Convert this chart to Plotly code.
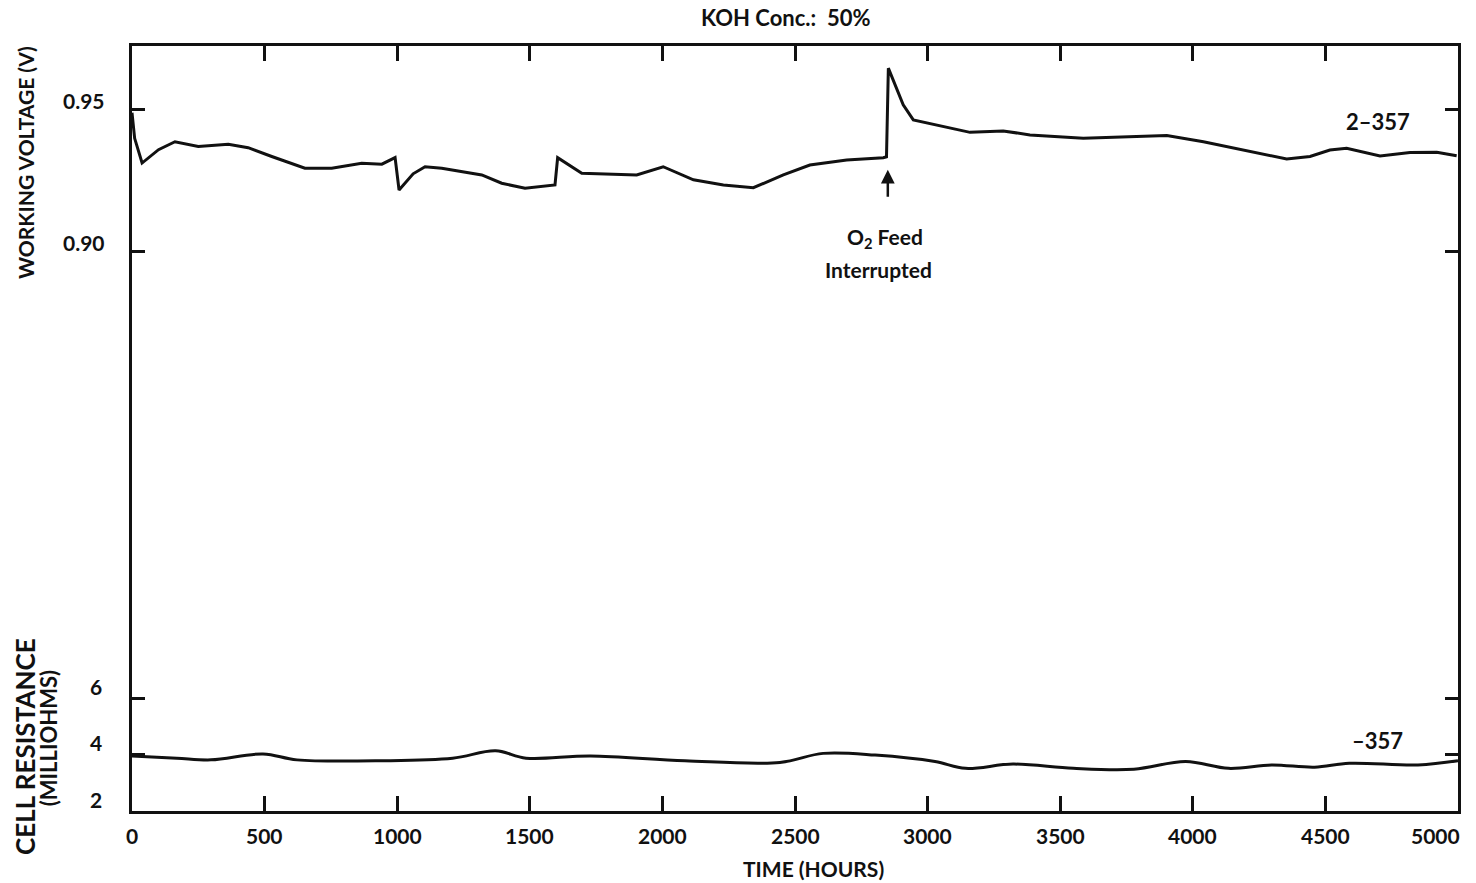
import plotly.graph_objects as go

# ---- data ----
volt_hours = [0, 10, 38, 100, 162, 250, 363, 438, 527, 652, 753, 866, 942, 992, 1007, 1060, 1105,
              1168, 1319, 1394, 1482, 1595, 1605, 1696, 1903, 2003, 2117, 2230, 2343, 2456, 2556,
              2695, 2833, 2845, 2852, 2908, 2946, 3034, 3160, 3285, 3386, 3587, 3902, 4040,
              4190, 4354, 4442, 4517, 4580, 4706, 4819, 4920, 4995]
volt_values = [0.949, 0.940, 0.9313, 0.9360, 0.9388, 0.9371, 0.9379, 0.9367, 0.9336, 0.9295, 0.9295,
               0.9312, 0.9309, 0.9332, 0.9218, 0.9275, 0.9300, 0.9295, 0.9271, 0.9242, 0.9224, 0.9236,
               0.9332, 0.9277, 0.9271, 0.9300, 0.9254, 0.9236, 0.9226, 0.9271, 0.9306, 0.9324,
               0.9332, 0.9335, 0.9647, 0.9518, 0.9465, 0.9447, 0.9421, 0.9426, 0.9412, 0.9400,
               0.9410, 0.9388, 0.9359, 0.9327, 0.9336, 0.9359, 0.9365, 0.9338, 0.9350, 0.9351,
               0.9339]

res_hours = [0, 169, 298, 494, 622, 950, 1209, 1371, 1486, 1729, 2085, 2443, 2606, 2802, 3028,
             3143, 3322, 3549, 3778, 3973, 4135, 4297, 4459, 4590, 4849, 5000]
res_values = [3.95, 3.87, 3.81, 4.02, 3.81, 3.78, 3.87, 4.13, 3.87, 3.95, 3.78, 3.72, 4.04, 3.98,
              3.75, 3.51, 3.66, 3.51, 3.48, 3.75, 3.51, 3.63, 3.55, 3.69, 3.63, 3.78]

x_ticks = [0, 500, 1000, 1500, 2000, 2500, 3000, 3500, 4000, 4500, 5000]
x_tick_labels = ["0", "500", "1000", "1500", "2000", "2500", "3000", "3500", "4000", "4500", "5000"]
volt_ticks = [0.90, 0.95]
volt_tick_labels = ["0.90", "0.95"]
res_ticks = [4, 6]
res_label_vals = [2, 4, 6]

FONT = "Lato"
BLACK = "#111111"


def f(size):
    return dict(family=FONT, size=size, color=BLACK, weight="bold")


fig = go.Figure()
fig.add_trace(go.Scatter(x=volt_hours, y=volt_values, mode="lines",
                         line=dict(color=BLACK, width=3), yaxis="y", showlegend=False))
fig.add_trace(go.Scatter(x=res_hours, y=res_values, mode="lines", line_shape="spline",
                         line=dict(color=BLACK, width=3), yaxis="y2", showlegend=False))

annotations = []
# x tick labels
for xv, t in zip(x_ticks, x_tick_labels):
    last = xv == x_ticks[-1]
    annotations.append(dict(x=xv, xref="x", y=0, yref="paper", text=t, showarrow=False,
                            xanchor="right" if last else "center", xshift=4 if last else 0,
                            yanchor="middle", yshift=-24, font=f(21)))
# y tick labels (placed slightly above tick marks as in the reference)
for v, t in zip(volt_ticks, volt_tick_labels):
    annotations.append(dict(x=0, xref="paper", y=v, yref="y", text=t, showarrow=False,
                            xanchor="right", yanchor="middle", xshift=-25, yshift=9,
                            font=f(21)))
for r in res_label_vals:
    annotations.append(dict(x=0, xref="paper", y=r, yref="y2", text=str(r), showarrow=False,
                            xanchor="right", yanchor="middle", xshift=-28, yshift=12,
                            font=f(21)))

# titles
annotations += [
    dict(x=0.493, xref="paper", y=1, yref="paper", yshift=29, text="KOH Conc.:  50%",
         showarrow=False, font=f(22), yanchor="middle"),
    dict(x=0.514, xref="paper", y=0, yref="paper", yshift=-57, text="TIME (HOURS)",
         showarrow=False, font=f(21), yanchor="middle"),
    dict(x=0, xref="paper", xshift=-107, y=0.847, yref="paper", text="WORKING VOLTAGE (V)",
         textangle=-90, showarrow=False, font=f(21), xanchor="center", yanchor="middle"),
    dict(x=0, xref="paper", xshift=-107, y=0.0837, yref="paper", text="CELL RESISTANCE",
         textangle=-90, showarrow=False, font=f(26), xanchor="center", yanchor="middle"),
    dict(x=0, xref="paper", xshift=-84, y=0.095, yref="paper", text="(MILLIOHMS)",
         textangle=-90, showarrow=False, font=f(22), xanchor="center", yanchor="middle"),
    dict(x=4698, xref="x", y=0.9458, yref="y", text="2\u2013357", showarrow=False,
         font=f(22)),
    dict(x=4698, xref="x", y=4.51, yref="y2", text="\u2013357", showarrow=False,
         font=f(22)),
    dict(x=2839, xref="x", y=0.9049, yref="y", text="O<sub>2</sub> Feed", showarrow=False,
         font=f(21)),
    dict(x=2815, xref="x", y=0.8937, yref="y", text="Interrupted", showarrow=False,
         font=f(21)),
    dict(x=2850, xref="x", y=0.9289, yref="y", ax=0, ay=36, axref="pixel", ayref="pixel",
         text=" ", showarrow=True, arrowhead=2, arrowsize=1.1, arrowwidth=2.5,
         arrowcolor=BLACK),
]

fig.update_layout(
    width=1476, height=883,
    margin=dict(l=132, r=18, t=46, b=72),
    paper_bgcolor="white", plot_bgcolor="white",
    font=dict(family=FONT, color=BLACK),
    xaxis=dict(range=[0, 5000], tickvals=x_ticks, showticklabels=False,
               ticks="inside", ticklen=15, tickwidth=2.5, tickcolor=BLACK,
               showline=True, linewidth=3, linecolor=BLACK, mirror="ticks",
               showgrid=False, zeroline=False),
    yaxis=dict(range=[0.7032, 0.9725], tickvals=volt_ticks, ticks="inside", ticklen=13,
               tickwidth=3, tickcolor=BLACK, showticklabels=False,
               showline=True, linewidth=3, linecolor=BLACK, mirror="ticks",
               showgrid=False, zeroline=False),
    yaxis2=dict(range=[2, 29.08], tickvals=res_ticks, ticks="inside", ticklen=13,
                tickwidth=3, tickcolor=BLACK, showticklabels=False, overlaying="y",
                side="left", showline=True, linewidth=3, linecolor=BLACK, mirror="ticks",
                showgrid=False, zeroline=False),
    annotations=annotations,
)

fig.write_html("out.html")
